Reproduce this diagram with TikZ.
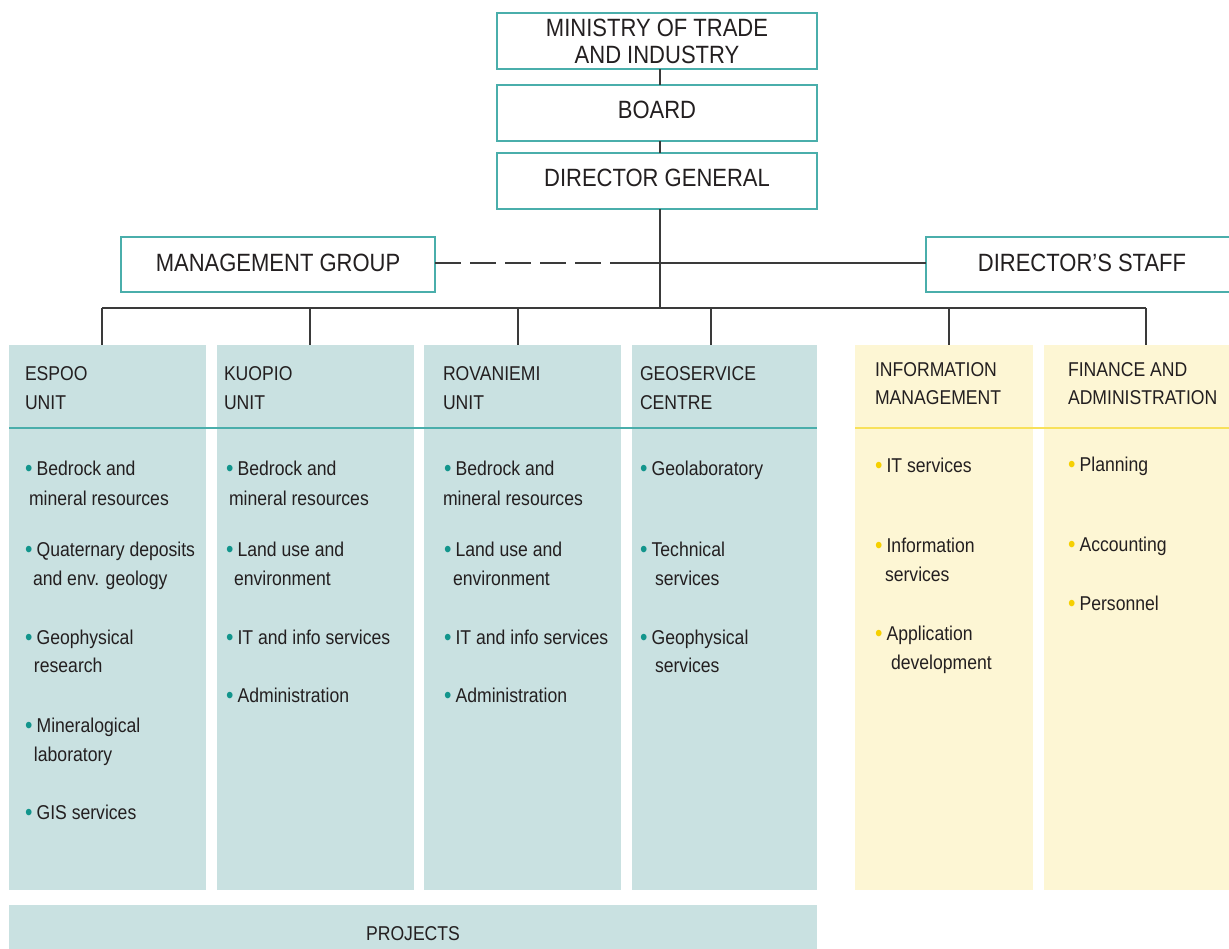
\documentclass[tikz,border=0pt]{standalone}
\usepackage{fontspec}
\setmainfont{Liberation Sans}[FakeStretch=0.88]
\definecolor{colT}{HTML}{C9E1E1}
\definecolor{colY}{HTML}{FDF6D4}
\definecolor{lineT}{HTML}{4AAEAB}
\definecolor{lineY}{HTML}{F8E15A}
\definecolor{bulT}{HTML}{12958C}
\definecolor{bulY}{HTML}{F6D000}
\definecolor{ink}{HTML}{231F20}
\definecolor{conn}{HTML}{3A3A3A}
\newcommand\bulmark[1]{\raisebox{-1.5pt}{\color{#1}\fontsize{24}{24}\selectfont •}\hspace{4.2pt}}
\newcommand\tb{\bulmark{bulT}}
\newcommand\yb{\bulmark{bulY}}
\begin{document}
\begin{tikzpicture}[x=1pt,y=-1pt,
  txt/.style={anchor=base west, inner sep=0pt, outer sep=0pt, text=ink, font=\fontsize{20}{24}\selectfont},
  topbox/.style={draw=lineT, line width=1.3pt, fill=white, inner sep=0pt, outer sep=0pt, minimum width=320pt, minimum height=56pt, text=ink, font=\fontsize{25}{27}\selectfont, align=center},
  colbox/.style={fill=#1, inner sep=0pt, outer sep=0pt, anchor=north west, minimum height=545pt},
  connector/.style={draw=conn, line width=1.2pt},
  sep/.style={line width=1.5pt}
]
\useasboundingbox (0,0) rectangle (1229,948);

% top boxes
\node[topbox] (min) at (657,41) {MINISTRY OF TRADE\\AND INDUSTRY};
\node[topbox, text depth=7pt] (board) at (657,113) {BOARD};
\node[topbox, text depth=7pt] (dg) at (657,181) {DIRECTOR GENERAL};
\node[topbox, minimum width=314pt, minimum height=55pt, text depth=3pt] (mg) at (278,264.5) {MANAGEMENT GROUP};
\node[topbox, minimum width=312pt, minimum height=55pt, text depth=3pt] (ds) at (1082,264.5) {DIRECTOR’S STAFF};

% columns
\node[colbox=colT, minimum width=197pt] (espoo) at (9,345) {};
\node[colbox=colT, minimum width=197pt] (kuopio) at (217,345) {};
\node[colbox=colT, minimum width=197pt] (rova) at (424,345) {};
\node[colbox=colT, minimum width=185pt] (geo) at (632,345) {};
\node[colbox=colY, minimum width=178pt] (info) at (855,345) {};
\node[colbox=colY, minimum width=196pt] (fin) at (1044,345) {};
\node[colbox=colT, minimum width=808pt, minimum height=60pt] (proj) at (9,905) {};

% header separators
\draw[sep, draw=lineT] (espoo.west |- 0,428) -- (geo.east |- 0,428);
\draw[sep, draw=lineY] (info.west |- 0,428) -- (fin.east |- 0,428);

% connectors
\coordinate (b1) at (102,308);
\coordinate (b2) at (310,308);
\coordinate (b3) at (518,308);
\coordinate (b4) at (711,308);
\coordinate (b5) at (949,308);
\coordinate (b6) at (1146,308);
\coordinate (dj) at (610,263);
\draw[connector] ([xshift=3pt]min.south) -- ([xshift=3pt]board.north);
\draw[connector] ([xshift=3pt]board.south) -- ([xshift=3pt]dg.north);
\draw[connector] ([xshift=3pt]dg.south) -- ([xshift=3pt]dg.south |- b1);
\draw[connector] (b1) -- (b6);
\draw[connector] (b1) -- (b1 |- espoo.north);
\draw[connector] (b2) -- (b2 |- kuopio.north);
\draw[connector] (b3) -- (b3 |- rova.north);
\draw[connector] (b4) -- (b4 |- geo.north);
\draw[connector] (b5) -- (b5 |- info.north);
\draw[connector] (b6) -- (b6 |- fin.north);
\draw[connector, dash pattern=on 26pt off 9pt] (mg.east |- dj) -- (dj);
\draw[connector] (dj) -- (ds.west |- dj);

% headers
\node[txt] (h1a) at (25,380) {ESPOO};
\node[txt] (h1b) at (25,409) {UNIT};
\node[txt] (h2a) at (224,380) {KUOPIO};
\node[txt] (h2b) at (224,409) {UNIT};
\node[txt] (h3a) at (443,380) {ROVANIEMI};
\node[txt] (h3b) at (443,409) {UNIT};
\node[txt] (h4a) at (640,380) {GEOSERVICE};
\node[txt] (h4b) at (640,409) {CENTRE};
\node[txt] (h5a) at (875,376) {INFORMATION};
\node[txt] (h5b) at (875,404) {MANAGEMENT};
\node[txt] (h6a) at (1068,376) {FINANCE AND};
\node[txt] (h6b) at (1068,404) {ADMINISTRATION};

% Espoo items
\node[txt] (e1) at (25,475) {\tb Bedrock and};
\node[txt] (e1b) at (29,505) {mineral resources};
\node[txt] (e2) at (25,556) {\tb Quaternary deposits};
\node[txt] (e2b) at (33,585) {and env. geology};
\node[txt] (e3) at (25,644) {\tb Geophysical};
\node[txt] (e3b) at (34,672) {research};
\node[txt] (e4) at (25,732) {\tb Mineralogical};
\node[txt] (e4b) at (34,761) {laboratory};
\node[txt] (e5) at (25,819) {\tb GIS services};

% Kuopio items
\node[txt] (k1) at (226,475) {\tb Bedrock and};
\node[txt] (k1b) at (229,505) {mineral resources};
\node[txt] (k2) at (226,556) {\tb Land use and};
\node[txt] (k2b) at (234,585) {environment};
\node[txt] (k3) at (226,644) {\tb IT and info services};
\node[txt] (k4) at (226,702) {\tb Administration};

% Rovaniemi items
\node[txt] (r1) at (444,475) {\tb Bedrock and};
\node[txt] (r1b) at (443,505) {mineral resources};
\node[txt] (r2) at (444,556) {\tb Land use and};
\node[txt] (r2b) at (453,585) {environment};
\node[txt] (r3) at (444,644) {\tb IT and info services};
\node[txt] (r4) at (444,702) {\tb Administration};

% Geoservice items
\node[txt] (g1) at (640,475) {\tb Geolaboratory};
\node[txt] (g2) at (640,556) {\tb Technical};
\node[txt] (g2b) at (655,585) {services};
\node[txt] (g3) at (640,644) {\tb Geophysical};
\node[txt] (g3b) at (655,672) {services};

% Information management items
\node[txt] (i1) at (875,472) {\yb IT services};
\node[txt] (i2) at (875,552) {\yb Information};
\node[txt] (i2b) at (885,581) {services};
\node[txt] (i3) at (875,640) {\yb Application};
\node[txt] (i3b) at (891,669) {development};

% Finance items
\node[txt] (f1) at (1068,471) {\yb Planning};
\node[txt] (f2) at (1068,551) {\yb Accounting};
\node[txt] (f3) at (1068,610) {\yb Personnel};

% projects
\node[txt, anchor=base] (pt) at (413,940) {PROJECTS};
\end{tikzpicture}
\end{document}
